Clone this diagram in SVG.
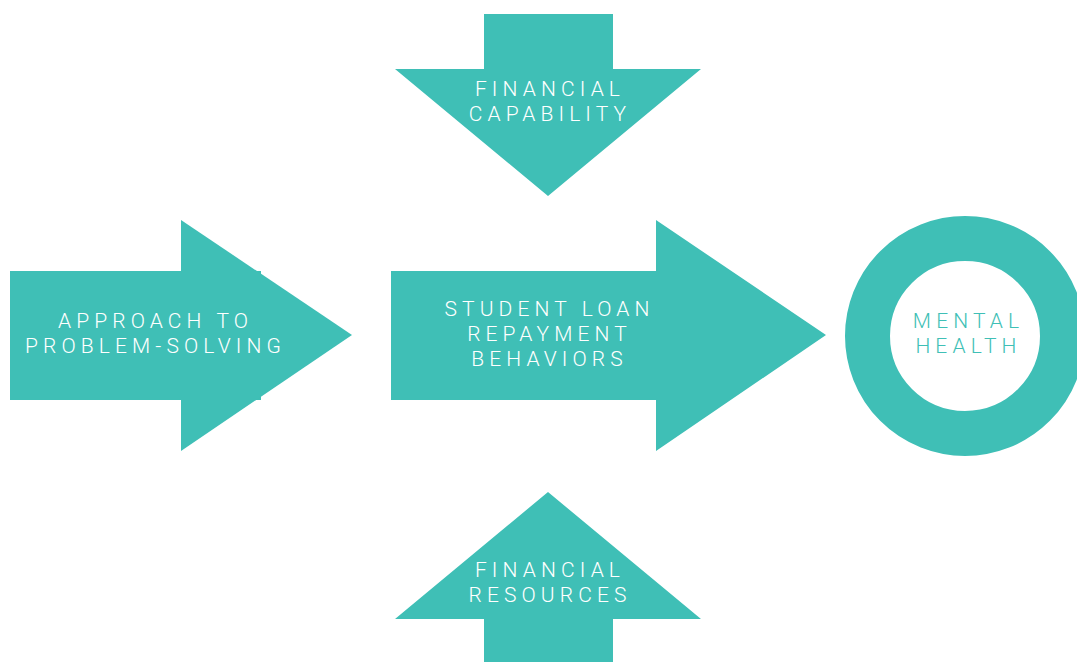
<svg xmlns="http://www.w3.org/2000/svg" width="1077" height="662" viewBox="0 0 1077 662">
<style>
.s{fill:#3fbfb6}
.t{font-family:Roboto,"Liberation Sans",sans-serif;font-weight:300;font-size:21px;letter-spacing:5.1px;text-anchor:middle;fill:#ffffff}
.m{fill:#3fbfb6}
</style>
<rect width="1077" height="662" fill="#ffffff"/>
<g id="node-approach">
<path class="s" d="M10 271H261V400H10Z"/>
<path class="s" d="M181 220L352 335L181 451Z"/>
<text class="t" x="155.5" y="328">APPROACH TO</text>
<text class="t" x="155.5" y="353">PROBLEM-SOLVING</text>
</g>
<g id="node-repayment">
<path class="s" d="M391 271H656V220L826 335L656 451V400H391Z"/>
<text class="t" x="549.5" y="316">STUDENT LOAN</text>
<text class="t" x="549.5" y="341">REPAYMENT</text>
<text class="t" x="549.5" y="366">BEHAVIORS</text>
</g>
<g id="node-capability">
<path class="s" d="M484 14H613V69H701L548 196L395 69H484Z"/>
<text class="t" x="550" y="96">FINANCIAL</text>
<text class="t" x="550" y="121">CAPABILITY</text>
</g>
<g id="node-resources">
<path class="s" d="M548 492L701 619H613V662H484V619H395Z"/>
<text class="t" x="550" y="577">FINANCIAL</text>
<text class="t" x="550" y="602">RESOURCES</text>
</g>
<g id="node-mental">
<circle cx="965" cy="336" r="97.5" fill="none" stroke="#3fbfb6" stroke-width="45"/>
<text class="t m" x="968.5" y="328">MENTAL</text>
<text class="t m" x="968.5" y="353">HEALTH</text>
</g>
<g id="connectors"></g>
</svg>
